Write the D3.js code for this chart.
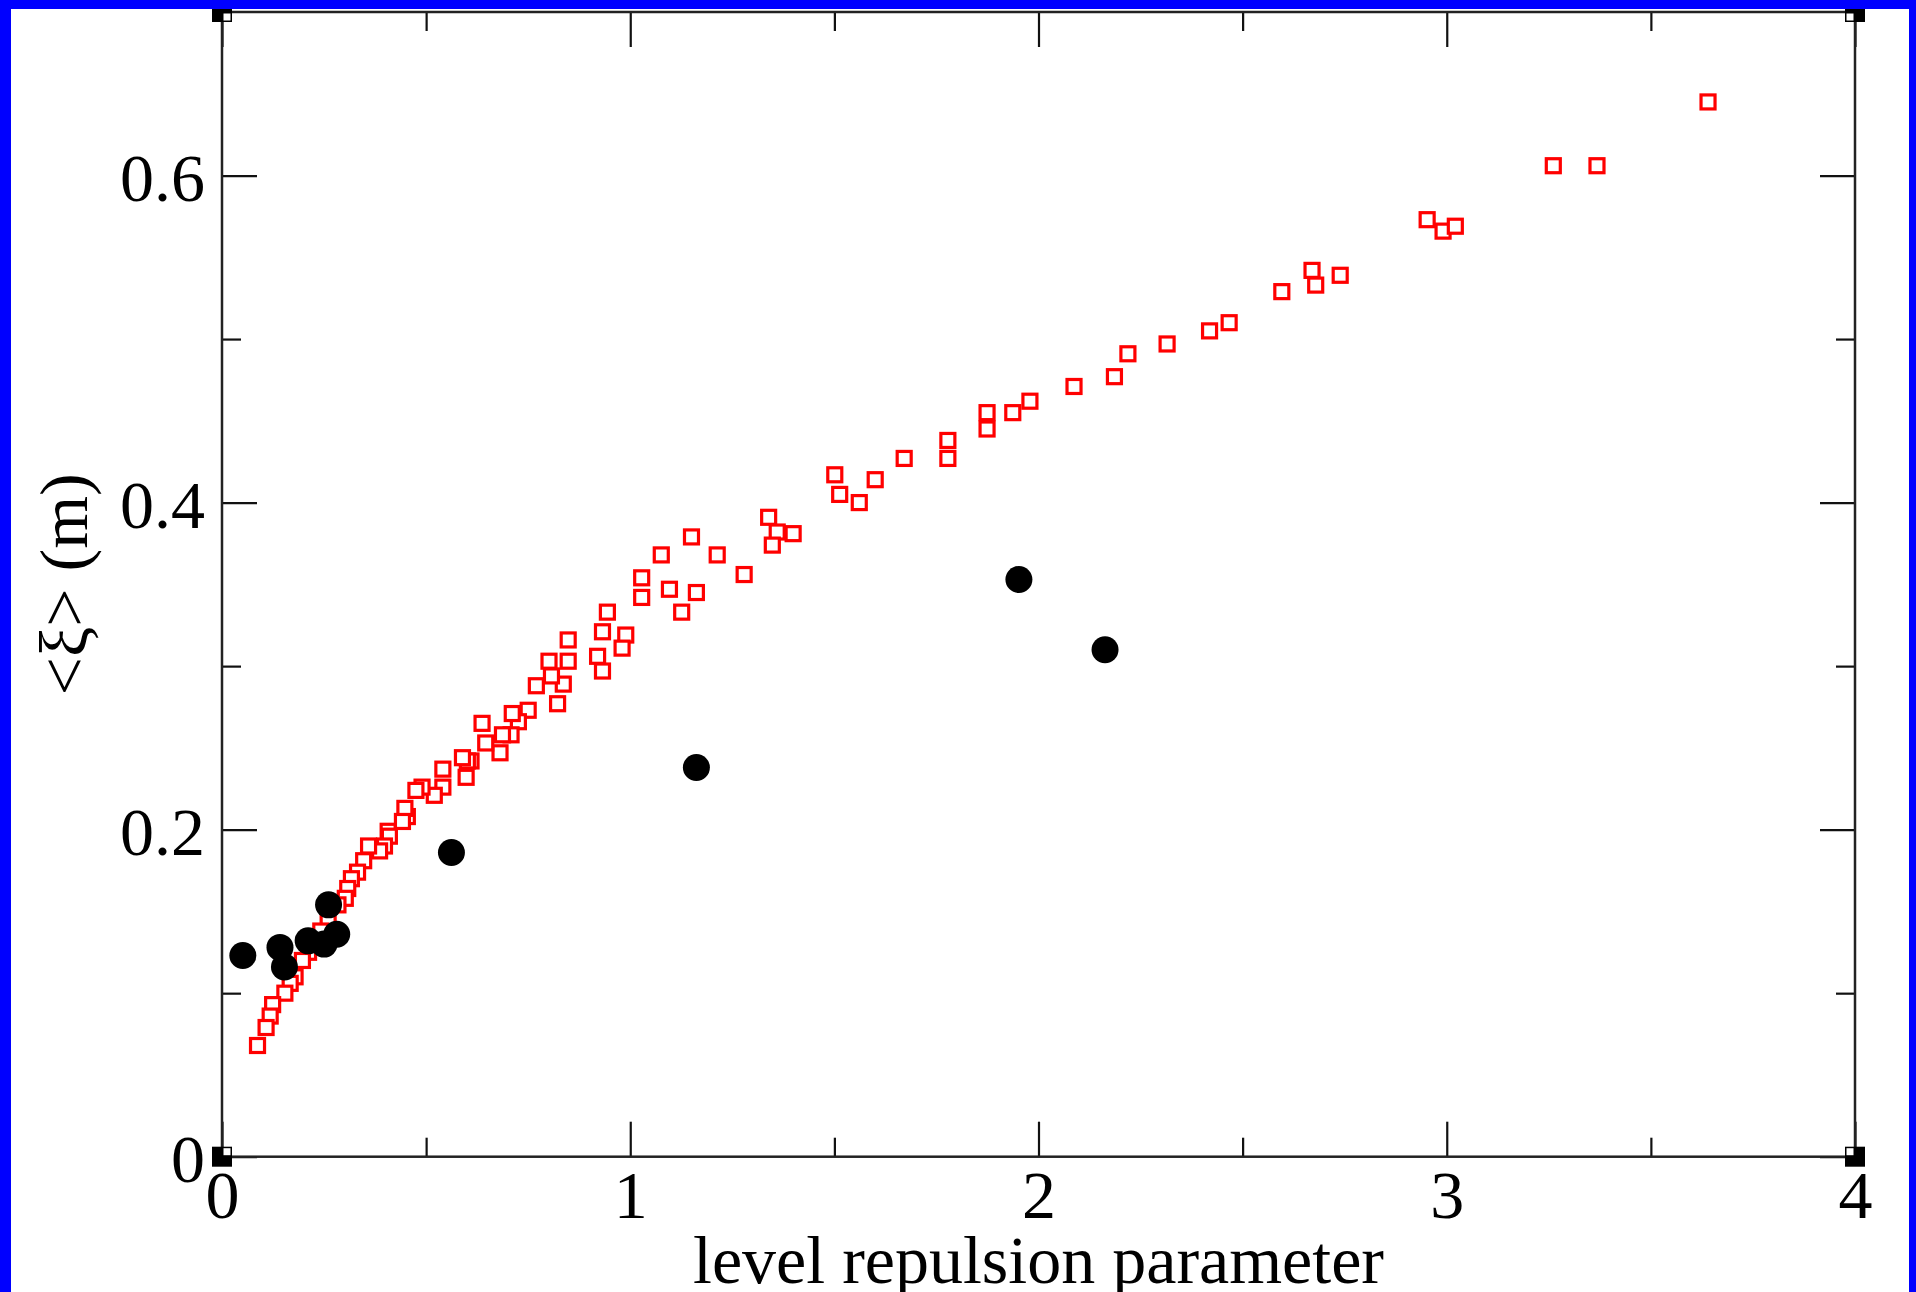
<!DOCTYPE html>
<html>
<head>
<meta charset="utf-8">
<script src="https://cdn.jsdelivr.net/npm/d3@7"></script>
<style>
  html, body { margin: 0; padding: 0; background: #fff; }
  svg { display: block; }
  text { font-family: "Liberation Serif", "Times New Roman", serif; fill: #000; }
</style>
</head>
<body>
<svg id="chart" width="1916" height="1292"></svg>
<script>
// ---- Data ----
const squaresX = [3.640, 3.261, 3.368, 2.952, 2.991, 3.021, 2.739, 2.670, 2.679, 2.596,
  2.467, 2.419, 2.315, 2.219, 2.186, 2.087, 1.979, 1.937, 1.874, 1.874,
  1.778, 1.778, 1.671, 1.600, 1.561, 1.513, 1.501, 1.399, 1.360, 1.348,
  1.339, 1.279, 1.213, 1.162, 1.150, 1.126, 1.096, 1.076, 1.028, 1.028,
  0.989, 0.980, 0.944, 0.932, 0.920, 0.932, 0.848, 0.848, 0.836, 0.822,
  0.801, 0.807, 0.770, 0.750, 0.726, 0.711, 0.708, 0.681, 0.687, 0.646,
  0.637, 0.610, 0.598, 0.601, 0.589, 0.541, 0.541, 0.520, 0.490, 0.475,
  0.454, 0.448, 0.442, 0.407, 0.410, 0.398, 0.386, 0.359, 0.347, 0.332,
  0.317, 0.308, 0.302, 0.284, 0.260, 0.242, 0.212, 0.197, 0.179, 0.167,
  0.154, 0.124, 0.118, 0.108, 0.087];
const squaresY = [0.645, 0.606, 0.606, 0.573, 0.566, 0.569, 0.539, 0.542, 0.533, 0.529,
  0.510, 0.505, 0.497, 0.491, 0.477, 0.471, 0.462, 0.455, 0.455, 0.445,
  0.438, 0.427, 0.427, 0.414, 0.400, 0.405, 0.417, 0.381, 0.382, 0.374,
  0.391, 0.356, 0.368, 0.345, 0.379, 0.333, 0.347, 0.368, 0.354, 0.342,
  0.319, 0.311, 0.333, 0.321, 0.306, 0.297, 0.316, 0.303, 0.289, 0.277,
  0.303, 0.294, 0.288, 0.273, 0.266, 0.271, 0.258, 0.247, 0.258, 0.253,
  0.265, 0.242, 0.232, 0.242, 0.244, 0.237, 0.226, 0.221, 0.226, 0.224,
  0.208, 0.213, 0.205, 0.199, 0.196, 0.190, 0.187, 0.190, 0.181, 0.174,
  0.170, 0.164, 0.158, 0.154, 0.144, 0.138, 0.125, 0.120, 0.110, 0.106,
  0.100, 0.093, 0.086, 0.079, 0.068];
const circlesX = [0.051, 0.142, 0.153, 0.211, 0.250, 0.261, 0.281, 0.562, 1.162, 1.952, 2.163];
const circlesY = [0.123, 0.128, 0.116, 0.132, 0.130, 0.154, 0.136, 0.186, 0.238, 0.353, 0.310];
const xMajorTicks = [0, 1, 2, 3, 4];
const xTickLabels = ["0", "1", "2", "3", "4"];
const xMinorTicks = [0.5, 1.5, 2.5, 3.5];
const yMajorTicks = [0, 0.2, 0.4, 0.6];
const yTickLabels = ["0", "0.2", "0.4", "0.6"];
const yMinorTicks = [0.1, 0.3, 0.5];
const xTitle = "level repulsion parameter";
const yTitle = "<ξ> (m)";

// ---- Layout ----
const L = 222, R = 1855, T = 12, B = 1156.7;
const FONT = 68;
const svg = d3.select("#chart");

const x = d3.scaleLinear().domain([0, 4]).range([L, R]);
const y = d3.scaleLinear().domain([0, 0.7]).range([B, T]);

// blue border
svg.append("rect").attr("x", 0).attr("y", 0).attr("width", 1916).attr("height", 1292).attr("fill", "#fff");
svg.append("rect").attr("x", 0).attr("y", 0).attr("width", 11).attr("height", 1292).attr("fill", "#0000ff");
svg.append("rect").attr("x", 0).attr("y", 0).attr("width", 1916).attr("height", 9).attr("fill", "#0000ff");
svg.append("rect").attr("x", 1909).attr("y", 0).attr("width", 7).attr("height", 1292).attr("fill", "#0000ff");

function styleAxis(g) {
  g.select(".domain").remove();
  g.selectAll(".tick line").attr("stroke", "#111").attr("stroke-width", 2.2);
  g.selectAll(".tick text").attr("font-size", FONT).attr("font-family", "Liberation Serif").attr("fill", "#000");
}

// bottom axis (major with labels)
svg.append("g").attr("transform", `translate(0,${B})`)
  .call(d3.axisBottom(x).tickValues(xMajorTicks).tickFormat((d, i) => xTickLabels[i]).tickSize(-35).tickPadding(13))
  .call(styleAxis);
svg.append("g").attr("transform", `translate(0,${B})`)
  .call(d3.axisBottom(x).tickValues(xMinorTicks).tickFormat("").tickSize(-19))
  .call(styleAxis);
// top axis
svg.append("g").attr("transform", `translate(0,${T})`)
  .call(d3.axisTop(x).tickValues(xMajorTicks).tickFormat("").tickSize(-35))
  .call(styleAxis);
svg.append("g").attr("transform", `translate(0,${T})`)
  .call(d3.axisTop(x).tickValues(xMinorTicks).tickFormat("").tickSize(-19))
  .call(styleAxis);
// left axis
const gl = svg.append("g").attr("transform", `translate(${L},0)`)
  .call(d3.axisLeft(y).tickValues(yMajorTicks).tickFormat((d, i) => yTickLabels[i]).tickSize(-35).tickPadding(17))
  .call(styleAxis);
gl.selectAll(".tick text").attr("dy", "0.36em");
svg.append("g").attr("transform", `translate(${L},0)`)
  .call(d3.axisLeft(y).tickValues(yMinorTicks).tickFormat("").tickSize(-19))
  .call(styleAxis);
// right axis
svg.append("g").attr("transform", `translate(${R},0)`)
  .call(d3.axisRight(y).tickValues(yMajorTicks).tickFormat("").tickSize(-35))
  .call(styleAxis);
svg.append("g").attr("transform", `translate(${R},0)`)
  .call(d3.axisRight(y).tickValues(yMinorTicks).tickFormat("").tickSize(-19))
  .call(styleAxis);

// frame
svg.append("rect").attr("x", L).attr("y", T).attr("width", R - L).attr("height", B - T)
  .attr("fill", "none").attr("stroke", "#222").attr("stroke-width", 2.5);

// corner markers
const corners = [[0, 0, 1, -1], [4, 0, -1, -1], [0, 0.7, 1, 1], [4, 0.7, -1, 1]];
corners.forEach(([cx, cy, sx, sy]) => {
  const px = x(cx), py = y(cy);
  svg.append("rect").attr("x", px - 10).attr("y", py - 10).attr("width", 20).attr("height", 20).attr("fill", "#000");
  svg.append("rect")
    .attr("x", sx > 0 ? px + 1.5 : px - 8.5)
    .attr("y", sy > 0 ? py + 1.5 : py - 8.5)
    .attr("width", 7).attr("height", 7).attr("fill", "#fff");
});
svg.append("rect").attr("x", 0).attr("y", 0).attr("width", 1916).attr("height", 9).attr("fill", "#0000ff");

// squares
const sq = squaresX.map((v, i) => ({ x: v, y: squaresY[i] }));
svg.append("g").selectAll("rect").data(sq).join("rect")
  .attr("x", d => x(d.x) - 7).attr("y", d => y(d.y) - 7)
  .attr("width", 14).attr("height", 14)
  .attr("fill", "#fff").attr("stroke", "#ff0000").attr("stroke-width", 3.2);

// circles
const ci = circlesX.map((v, i) => ({ x: v, y: circlesY[i] }));
svg.append("g").selectAll("circle").data(ci).join("circle")
  .attr("cx", d => x(d.x)).attr("cy", d => y(d.y)).attr("r", 13.5)
  .attr("fill", "#000");

// titles
svg.append("text").attr("x", (L + R) / 2).attr("y", 1283)
  .attr("text-anchor", "middle").attr("font-size", FONT).text(xTitle);
svg.append("text").attr("transform", `translate(87,${(T + B) / 2}) rotate(-90)`)
  .attr("text-anchor", "middle").attr("font-size", FONT).text(yTitle);
</script>
</body>
</html>
